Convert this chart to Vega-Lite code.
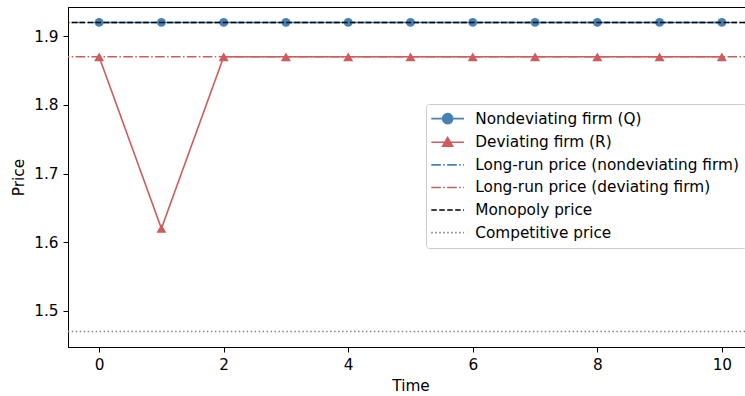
{
  "$schema": "https://vega.github.io/schema/vega-lite/v6.json",
  "width": 685,
  "height": 340,
  "autosize": {"type": "none"},
  "padding": {"left": 68, "top": 7, "right": 0, "bottom": 49},
  "config": {
    "font": "DejaVu Sans",
    "view": {"stroke": "black", "strokeWidth": 1},
    "axis": {
      "labelFont": "DejaVu Sans", "labelFontSize": 15.3, "labelColor": "black",
      "titleFont": "DejaVu Sans", "titleFontSize": 15.3, "titleFontWeight": "normal", "titleColor": "black",
      "domainColor": "black", "tickColor": "black", "tickSize": 5, "tickWidth": 1, "domainWidth": 1,
      "grid": false, "labelPadding": 5, "titlePadding": 5
    }
  },
  "layer": [
    {
      "data": {"values": [
        {"t": 0, "price": 1.92, "series": "Nondeviating firm (Q)"},
        {"t": 1, "price": 1.92, "series": "Nondeviating firm (Q)"},
        {"t": 2, "price": 1.92, "series": "Nondeviating firm (Q)"},
        {"t": 3, "price": 1.92, "series": "Nondeviating firm (Q)"},
        {"t": 4, "price": 1.92, "series": "Nondeviating firm (Q)"},
        {"t": 5, "price": 1.92, "series": "Nondeviating firm (Q)"},
        {"t": 6, "price": 1.92, "series": "Nondeviating firm (Q)"},
        {"t": 7, "price": 1.92, "series": "Nondeviating firm (Q)"},
        {"t": 8, "price": 1.92, "series": "Nondeviating firm (Q)"},
        {"t": 9, "price": 1.92, "series": "Nondeviating firm (Q)"},
        {"t": 10, "price": 1.92, "series": "Nondeviating firm (Q)"},
        {"t": 0, "price": 1.87, "series": "Deviating firm (R)"},
        {"t": 1, "price": 1.62, "series": "Deviating firm (R)"},
        {"t": 2, "price": 1.87, "series": "Deviating firm (R)"},
        {"t": 3, "price": 1.87, "series": "Deviating firm (R)"},
        {"t": 4, "price": 1.87, "series": "Deviating firm (R)"},
        {"t": 5, "price": 1.87, "series": "Deviating firm (R)"},
        {"t": 6, "price": 1.87, "series": "Deviating firm (R)"},
        {"t": 7, "price": 1.87, "series": "Deviating firm (R)"},
        {"t": 8, "price": 1.87, "series": "Deviating firm (R)"},
        {"t": 9, "price": 1.87, "series": "Deviating firm (R)"},
        {"t": 10, "price": 1.87, "series": "Deviating firm (R)"}
      ]},
      "layer": [
        {
          "mark": {"type": "line", "strokeWidth": 1.6},
          "encoding": {
            "x": {"field": "t", "type": "quantitative",
              "scale": {"domain": [-0.5, 10.5], "nice": false, "zero": false},
              "axis": {"values": [0, 2, 4, 6, 8, 10], "format": "d", "title": "Time", "titlePadding": 6}},
            "y": {"field": "price", "type": "quantitative",
              "scale": {"domain": [1.4475, 1.9425], "nice": false, "zero": false},
              "axis": {"values": [1.5, 1.6, 1.7, 1.8, 1.9], "format": ".1f", "title": "Price", "titlePadding": 7}},
            "color": {"field": "series", "type": "nominal",
              "scale": {
                "domain": ["Nondeviating firm (Q)", "Deviating firm (R)", "Long-run price (nondeviating firm)", "Long-run price (deviating firm)", "Monopoly price", "Competitive price"],
                "range": ["#4682b4", "#cd5c5c", "#4682b4", "#cd5c5c", "#000000", "#808080"]
              },
              "legend": {
                "title": null, "orient": "none", "legendX": 358, "legendY": 97,
                "labelFont": "DejaVu Sans", "labelFontSize": 15.3, "labelColor": "black", "labelLimit": 400,
                "symbolSize": 100, "symbolStrokeWidth": 1.6, "symbolOffset": 7, "labelOffset": 20,
                "rowPadding": 6.6, "padding": 7, "strokeColor": "#cccccc",
                "fillColor": "rgba(255,255,255,0.8)", "cornerRadius": 3,
                "encode": {"symbols": {"update": {
                  "fill": {"scale": "color", "field": "value"},
                  "stroke": {"scale": "color", "field": "value"},
                  "strokeDash": {"scale": "strokeDash", "field": "value"},
                  "opacity": {"value": 1},
                  "shape": {"signal": "datum.value === 'Nondeviating firm (Q)' ? 'M-3.27,0H3.27M-1,0A1,1,0,1,1,1,0A1,1,0,1,1,-1,0Z' : datum.value === 'Deviating firm (R)' ? 'M-3.27,0H3.27M0,-0.95L1,0.8L-1,0.8Z' : 'M-3.27,0H3.27'"}
                }}}
              }
            },
            "strokeDash": {"field": "series", "type": "nominal",
              "scale": {
                "domain": ["Nondeviating firm (Q)", "Deviating firm (R)", "Long-run price (nondeviating firm)", "Long-run price (deviating firm)", "Monopoly price", "Competitive price"],
                "range": [[1, 0], [1, 0], [9.6, 2.4, 1.5, 2.4], [9.6, 2.4, 1.5, 2.4], [5.55, 2.4], [1.5, 2.475]]
              },
              "legend": null
            }
          }
        },
        {
          "transform": [{"filter": "datum.series === 'Nondeviating firm (Q)'"}],
          "mark": {"type": "point", "shape": "circle", "filled": true, "size": 78, "color": "#4682b4", "opacity": 1},
          "encoding": {
            "x": {"field": "t", "type": "quantitative"},
            "y": {"field": "price", "type": "quantitative"}
          }
        },
        {
          "transform": [{"filter": "datum.series === 'Deviating firm (R)'"}],
          "mark": {"type": "point", "shape": "triangle-up", "filled": true, "size": 100, "color": "#cd5c5c", "opacity": 1},
          "encoding": {
            "x": {"field": "t", "type": "quantitative"},
            "y": {"field": "price", "type": "quantitative"}
          }
        }
      ]
    },
    {
      "data": {"values": [
        {"price": 1.92, "series": "Long-run price (nondeviating firm)"},
        {"price": 1.87, "series": "Long-run price (deviating firm)"},
        {"price": 1.92, "series": "Monopoly price"},
        {"price": 1.47, "series": "Competitive price"}
      ]},
      "mark": {"type": "rule", "strokeWidth": 1.6},
      "encoding": {
        "y": {"field": "price", "type": "quantitative"},
        "color": {"field": "series", "type": "nominal"},
        "strokeDash": {"field": "series", "type": "nominal", "legend": null}
      }
    }
  ]
}
